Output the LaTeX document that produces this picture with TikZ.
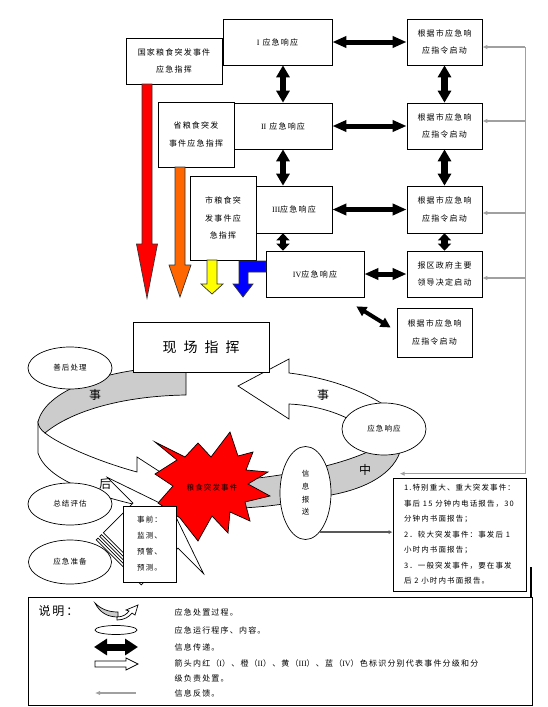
\documentclass[tikz,border=0pt]{standalone}
\usepackage{fontspec}
\setmainfont{Noto Sans CJK SC}[LetterSpace=15]
\newfontfamily\numfont{Liberation Serif}
\usetikzlibrary{arrows.meta,calc,shapes.geometric}
\definecolor{arrow_red}{RGB}{255,0,0}
\definecolor{arrow_orange}{RGB}{255,102,0}
\definecolor{arrow_yellow}{RGB}{255,255,0}
\definecolor{arrow_blue}{RGB}{0,0,255}
\definecolor{band_gray}{RGB}{204,204,204}
\definecolor{line_gray}{RGB}{160,160,160}

% colour, x, top, head, tip, shaft half width, head half width
\newcommand{\fallarrow}[7]{%
    \protect\filldraw[fill=#1, draw=black!80] (#2-#6,#3) -- (#2-#6,#4) -- (#2-#7,#4) -- (#2,#5) -- (#2+#7,#4) -- (#2+#6,#4) -- (#2+#6,#3) -- cycle;}

\begin{document}
\begin{tikzpicture}[x=1pt, y=-1pt, line width=0.7pt,
    box/.style={draw, fill=white, align=center, inner sep=0pt, font=\fontsize{8}{17.5}\selectfont},
    proc/.style={ellipse, draw, fill=white, inner sep=0pt, font=\fontsize{7.5}{13}\selectfont},
    dbl/.style n args={3}{line width=#1, {Triangle[length=#2,width=#3]}-{Triangle[length=#2,width=#3]}},
    band/.style={fill=band_gray, draw=black},
    shell/.style={fill=white, draw=black},
    fbk/.style={draw=line_gray, line width=1.3pt},
    fbtip/.style={fbk, -{Latex[length=5pt,width=4.5pt]}},
    word/.style={font=\fontsize{12}{12}\selectfont, inner sep=0pt}]
    \useasboundingbox (0,0) rectangle (548,707);

    % Command boxes
    \node[box, minimum width=96pt, minimum height=46pt] (nat) at (174,61) {国家粮食突发事件\\应急指挥};
    \node[box, minimum width=76pt, minimum height=65pt] (prov) at (196,134.5) {省粮食突发\\事件应急指挥};
    \node[box, minimum width=66pt, minimum height=84pt] (city) at (223,218) {市粮食突\\发事件应\\急指挥};
    \node[box, minimum width=109pt, minimum height=46pt] (lvI) at (277.5,42) {{\numfont I} 应急响应};
    \node[box, minimum width=98pt, minimum height=46pt] (lvII) at (283,126) {{\numfont II} 应急响应};
    \node[box, minimum width=76pt, minimum height=47pt] (lvIII) at (294,209.5) {{\numfont III}应急响应};
    \node[box, minimum width=98pt, minimum height=46pt] (lvIV) at (315,274) {{\numfont IV}应急响应};
    \node[box, minimum width=75pt, minimum height=46pt] (startI) at (444.5,42) {根据市应急响\\应指令启动};
    \node[box, minimum width=75pt, minimum height=46pt] (startII) at (444.5,126) {根据市应急响\\应指令启动};
    \node[box, minimum width=75pt, minimum height=47pt] (startIII) at (444.5,209.5) {根据市应急响\\应指令启动};
    \node[box, minimum width=75pt, minimum height=46pt] (startIV) at (444.5,274) {报区政府主要\\领导决定启动};
    \node[box, minimum width=75pt, minimum height=49pt] (startV) at (434.5,332.5) {根据市应急响\\应指令启动};

    % Level arrows
    \fallarrow{arrow_red}{147}{84}{244}{298}{5}{10.5}
    \fallarrow{arrow_orange}{180}{167}{265}{297}{5}{11}
    \fallarrow{arrow_yellow}{212}{260}{284}{294}{5}{11}
    \protect\filldraw[fill=arrow_blue, draw=black!80] (266,261) -- (239,261) -- (239,284) -- (233,284) -- (243,297) -- (253,284) -- (248,284) -- (248,272) -- (266,272) -- cycle;

    % Information links
    \protect\draw[dbl={5pt}{14pt}{11pt}] (lvI.east) -- (startI.west);
    \protect\draw[dbl={5pt}{14pt}{11pt}] (lvII.east) -- (startII.west);
    \protect\draw[dbl={5pt}{14pt}{11pt}] (lvIII.east) -- (startIII.west);
    \protect\draw[dbl={5pt}{14pt}{11pt}] (lvIV.east) -- (startIV.west);
    \protect\draw[dbl={6.5pt}{12pt}{13pt}] (lvI.south -| lvII.north) -- (lvII.north);
    \protect\draw[dbl={6.5pt}{12pt}{13pt}] (lvII.south) -- (lvII.south |- lvIII.north);
    \protect\draw[dbl={6.5pt}{7pt}{13pt}] (lvII.south |- lvIII.south) -- (lvII.south |- lvIV.north);
    \protect\draw[dbl={6.5pt}{12pt}{13pt}] (startI.south) -- (startII.north);
    \protect\draw[dbl={6.5pt}{12pt}{13pt}] (startII.south) -- (startIII.north);
    \protect\draw[dbl={6.5pt}{7pt}{13pt}] (startIII.south) -- (startIV.north);
    \coordinate (diagA) at ($(lvIV.south east)+(-8,9)$);
    \coordinate (diagB) at ($(startV.west)+(-6,-5)$);
    \protect\draw[dbl={4pt}{10pt}{10pt}] (diagA) -- (diagB);

    % Left ring, after the event
    \protect\filldraw[shell] (38,422) -- (38,453) .. controls (45,475) and (80,492) .. (137,505) -- (137,519) -- (185,488) -- (137,457) -- (137,472) .. controls (100,462) and (60,445) .. (45,433) -- cycle;
    \protect\filldraw[band] (186,368) -- (186,395) .. controls (120,396) and (70,412) .. (45,433) .. controls (41,430) and (38,426) .. (38,422) .. controls (45,392) and (100,368) .. (186,366) -- cycle;

    % Right ring, during the event
    \protect\filldraw[band] (240,480) .. controls (300,474) and (360,462) .. (392,438) -- (402,442) .. controls (400,470) and (370,488) .. (331,495) .. controls (300,502) and (270,507) .. (240,508) -- cycle;
    \protect\filldraw[shell] (398,415) .. controls (370,392) and (330,378) .. (289,373) -- (289,359) -- (238,386) -- (289,419) -- (289,404) .. controls (310,405) and (335,410) .. (360,425) -- cycle;

    % Striped arrow, before the event
    \protect\filldraw[shell] (96.2,539.8) -- (98,538) -- (143,583) -- (141.2,584.8) -- cycle;
    \protect\filldraw[shell] (99.7,536.3) -- (101.5,534.5) -- (146.5,579.5) -- (144.7,581.3) -- cycle;
    \protect\filldraw[shell] (103.3,532.7) -- (133,503) -- (107.5,477.5) -- (172,509) -- (203.5,573.5) -- (178,548) -- (148.3,577.7) -- cycle;

    % Event
    \protect\filldraw[fill=arrow_red, draw=black] (230,432) -- (238,456) -- (253,452) -- (246,470) -- (268,472) -- (248,484) -- (270,496) -- (245,502) -- (250,521) -- (230,512) -- (228,533) -- (212,516) -- (198,541) -- (180,518) -- (158,503) -- (173,486) -- (155,474) -- (177,460) -- (155,442) -- (185,457) -- (198,443) -- (211,457) -- cycle;
    \node[font=\fontsize{7.5}{8}\selectfont, inner sep=0pt] (evt) at (212,488) {粮食突发事件};

    % Stages
    \node[box, minimum width=136pt, minimum height=50pt, font=\fontsize{14}{14}\selectfont] (scene) at (201,347) {现\hspace{7pt}场\hspace{7pt}指\hspace{7pt}挥};
    \node[proc, minimum width=84pt, minimum height=42pt] (aftercare) at (70,368) {善后处理};
    \node[proc, minimum width=84pt, minimum height=42pt] (review) at (70,504) {总结评估};
    \node[proc, minimum width=83pt, minimum height=44pt] (ready) at (70,562) {应急准备};
    \node[proc, minimum width=84pt, minimum height=52pt] (resp) at (384,429) {应急响应};
    \node[proc, minimum width=51pt, minimum height=93pt, align=center, font=\fontsize{7.5}{12.7}\selectfont] (info) at (305.5,493) {信\\息\\报\\送};
    \node[box, minimum width=53pt, minimum height=76pt, align=left, font=\fontsize{7.5}{16}\selectfont] (before) at (149.5,544) {事前：\\监测、\\预警、\\预测。};
    \node[box, minimum width=133pt, minimum height=113pt, align=left, font=\fontsize{7.5}{15.5}\selectfont] (note) at (459.5,534.5) {1.特别重大、重大突发事件：\\事后 15 分钟内电话报告，30\\分钟内书面报告；\\2．较大突发事件：事发后 1\\小时内书面报告；\\3．一般突发事件，要在事发\\后 2 小时内书面报告。};
    \node[word] (afterA) at (95,395) {事};
    \node[word] (afterB) at (105,484) {后};
    \node[word] (duringA) at (323,395) {事};
    \node[word] (duringB) at (365,470) {中};
    \protect\draw[line width=1.5pt, draw=black!65, -{Latex[length=4pt,width=4pt]}] (info.-70) -- (info.-70 -| note.west);

    % Feedback
    \coordinate (fbtop) at ($(startI.east)+(43,5)$);
    \coordinate (fbend) at ($(note.north west)+(7,-4)$);
    \coordinate (fbbot) at (fbtop |- fbend);
    \protect\draw[fbk] (fbtop) -- (fbbot);
    \protect\draw[fbtip] (fbbot) -- (fbend);
    \foreach \b/\dy in {startI/5, startII/-5, startIII/3.5, startIV/4}
        \protect\draw[fbtip] ($(\b.east)+(43,\dy)$) -- ($(\b.east)+(0,\dy)$);
    \protect\draw[line width=2pt] (531,567) -- (531,597);

    % Legend
    \node[draw, minimum width=504pt, minimum height=108pt, inner sep=0pt] (legend) at (280,651) {};
    \node[anchor=west, font=\fontsize{12}{12}\selectfont] (expl) at (35,611) {说明：};
    \protect\filldraw[band] (95,603) .. controls (100,613) and (108,617) .. (118,617) -- (118,612) .. controls (108,612) and (101,609) .. (95,603) -- cycle;
    \protect\filldraw[shell] (117,617) .. controls (123,617) and (127,614) .. (129,611) -- (126,610) -- (138,605) -- (135,615) -- (132,613) .. controls (129,617) and (124,620) .. (117,620) -- cycle;
    \node[ellipse, draw, minimum width=42pt, minimum height=9pt, inner sep=0pt] (iconEll) at (116,630) {};
    \coordinate (iconA) at (94,647);
    \coordinate (iconB) at (138,647);
    \protect\draw[dbl={7pt}{13pt}{16pt}] (iconA) -- (iconB);
    \protect\filldraw[shell] (95,661) -- (126,661) -- (126,658) -- (138,664) -- (126,670) -- (126,667) -- (95,667) -- cycle;
    \coordinate (iconC) at (136,693);
    \coordinate (iconD) at (95,693);
    \protect\draw[fbtip] (iconC) -- (iconD);
    \node[anchor=west, font=\fontsize{8}{14}\selectfont] (legA) at (171,612) {应急处置过程。};
    \node[anchor=west, font=\fontsize{8}{14}\selectfont] (legB) at (171,630) {应急运行程序、内容。};
    \node[anchor=west, font=\fontsize{8}{14}\selectfont] (legC) at (171,647) {信息传递。};
    \node[anchor=west, align=left, font=\fontsize{8}{14.5}\selectfont] (legD) at (171,671) {箭头内红（{\numfont I}）、橙（{\numfont II}）、黄（{\numfont III}）、蓝（{\numfont IV}）色标识分别代表事件分级和分\\级负责处置。};
    \node[anchor=west, font=\fontsize{8}{14}\selectfont] (legE) at (171,693) {信息反馈。};
\end{tikzpicture}
\end{document}
